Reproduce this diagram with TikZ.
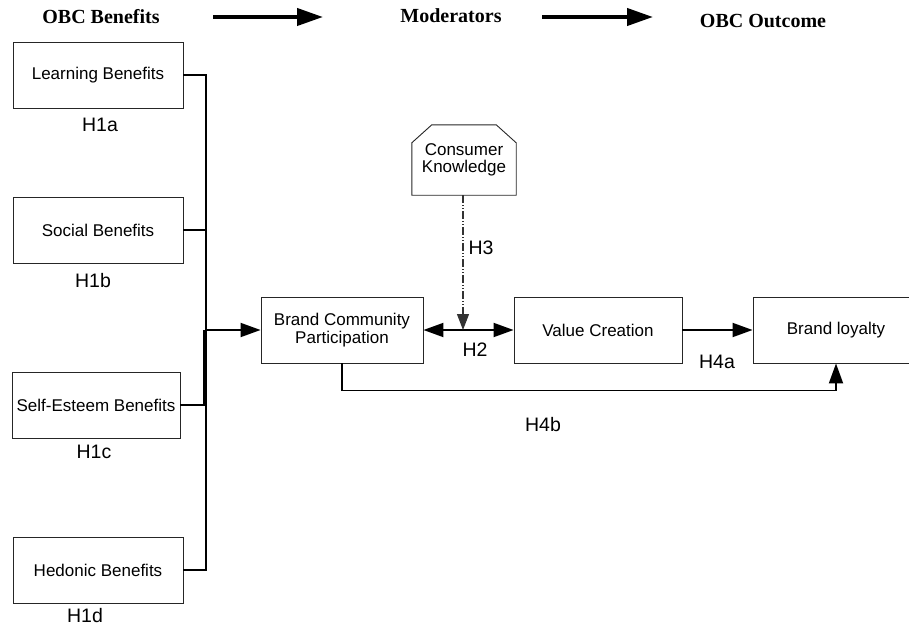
\documentclass[tikz,border=0pt]{standalone}
\usepackage{fontspec}
\setmainfont{Liberation Sans}
\newfontfamily\hdrfont{Liberation Serif}
\usetikzlibrary{arrows.meta}
\begin{document}
\begin{tikzpicture}[x=1pt,y=-1pt,
  box/.style={draw=black!85, line width=0.9pt, minimum width=170pt, minimum height=66pt,
              inner sep=0pt, font=\fontsize{17}{18}\selectfont, align=center},
  lbl/.style={font=\fontsize{19.5}{20}\selectfont, inner sep=0pt},
  hdr/.style={font=\hdrfont\bfseries\fontsize{20}{22}\selectfont, inner sep=0pt},
  conn/.style={line width=1.9pt, black},
  tip/.style={-{Triangle[length=20pt,width=14pt]}},
  hdrarrow/.style={line width=4pt, -{Triangle[length=26pt,width=17pt]}},
  dashdot/.style={line width=1.1pt, black!80, dash pattern=on 8pt off 2pt on 1pt off 2pt on 1pt off 2pt}
]
\useasboundingbox (0,0) rectangle (909,626);
\clip (0,0) rectangle (909,626);

% header
\node[hdr] (h1) at (101,17) {OBC Benefits};
\node[hdr] (h2) at (451,16) {Moderators};
\node[hdr] (h3) at (763,21) {OBC Outcome};
\coordinate (a1s) at (213,17);
\coordinate (a1e) at (323,17);
\coordinate (a2s) at (542,17);
\coordinate (a2e) at (653,17);
\draw[hdrarrow] (a1s) -- (a1e);
\draw[hdrarrow] (a2s) -- (a2e);

% left boxes
\node[box] (lb) at (98,75) {Learning Benefits};
\node[box] (sb) at (98,230) {Social Benefits};
\node[box, minimum width=168pt] (seb) at (96,405) {Self-Esteem Benefits};
\node[box] (hb) at (98,570) {Hedonic Benefits};

\node[lbl] (l1a) at (100,125) {H1a};
\node[lbl] (l1b) at (93,281) {H1b};
\node[lbl] (l1c) at (94,452) {H1c};
\node[lbl] (l1d) at (85,616) {H1d};

% main row
\node[box, minimum width=162pt] (bcp) at (342,330) {Brand Community\\Participation};
\node[box, minimum width=168pt] (vc) at (598,330) {Value Creation};
\node[box, minimum width=166pt] (bl) at (836,330) {Brand loyalty};

\node[minimum width=104pt, minimum height=70pt, inner sep=0pt,
      font=\fontsize{17}{17}\selectfont, align=center] (ck) at (464,160) {Consumer\\Knowledge};
\draw[draw=black!85, line width=0.9pt]
  (ck.south west) -- ([yshift=-18pt]ck.north west) -- ([xshift=20pt]ck.north west)
  -- ([xshift=-20pt]ck.north east) -- ([yshift=-18pt]ck.north east) -- (ck.south east) -- cycle;

\node[lbl] (l2) at (475,350) {H2};
\node[lbl] (l3) at (481,248) {H3};
\node[lbl] (l4a) at (717,362) {H4a};
\node[lbl] (l4b) at (543,425) {H4b};

% bus
\coordinate (bt) at (206,75);
\coordinate (bb) at (206,570);
\draw[conn] (lb.east) -- (bt) -- (bb) -- (hb.east);
\draw[conn] (sb.east) -- (sb.east -| bt);
\draw[conn] (seb.east) -- (seb.east -| bt);
\draw[line width=3pt] ([xshift=-1.5pt]bcp.west -| bt) -- ([xshift=-1.5pt]seb.east -| bt);
\draw[conn,tip] (bcp.west -| bt) -- (bcp.west);

% connectors
\draw[conn,{Triangle[length=20pt,width=14pt]}-{Triangle[length=20pt,width=14pt]}] (bcp.east) -- (vc.west);
\draw[dashdot,-{Triangle[length=16pt,width=12pt]}] ([xshift=-1pt]ck.south) -- ([xshift=-1pt]ck.south |- vc.west);
\draw[conn,tip] (vc.east) -- (bl.west);
\draw[conn,tip] (bcp.south) -- ++(0,27) -| (bl.south);
\end{tikzpicture}
\end{document}
